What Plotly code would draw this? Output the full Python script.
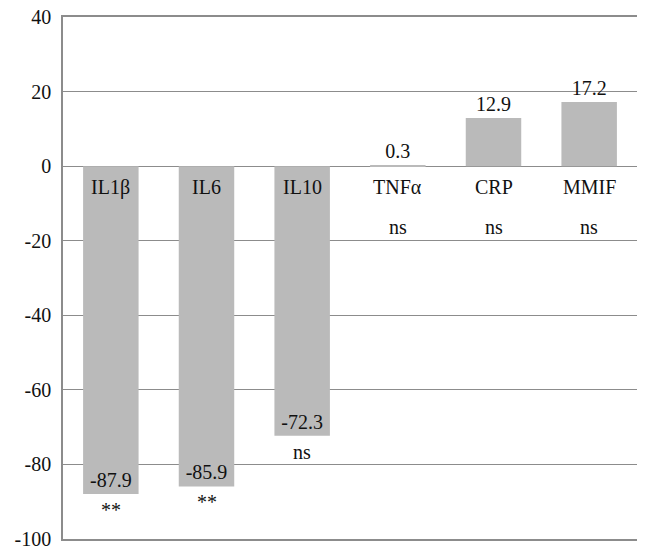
import plotly.graph_objects as go

categories = ["IL1β", "IL6", "IL10", "TNFα", "CRP", "MMIF"]
values = [-87.9, -85.9, -72.3, 0.3, 12.9, 17.2]
significance = ["**", "**", "ns", "ns", "ns", "ns"]
tick_values = [40, 20, 0, -20, -40, -60, -80, -100]
tick_labels = ["40", "20", "0", "-20", "-40", "-60", "-80", "-100"]

FONT = "Liberation Serif"
BAR_COLOR = "#bababa"
GRID_COLOR = "#8c8c8c"
TEXT_COLOR = "#111111"
NS_ROW = -14  # row used for the marks of the small / positive bars

fig = go.Figure()
fig.add_trace(
    go.Bar(
        x=categories,
        y=values,
        marker=dict(color=BAR_COLOR, line=dict(width=0)),
        text=[f"{v:.1f}" for v in values],
        textposition=["inside" if v < 0 else "outside" for v in values],
        insidetextanchor="end",
        insidetextfont=dict(family=FONT, size=20, color=TEXT_COLOR),
        outsidetextfont=dict(family=FONT, size=20, color=TEXT_COLOR),
        cliponaxis=False,
    )
)

# category names just below the zero line
for cat in categories:
    fig.add_annotation(
        x=cat, y=0, text=cat, showarrow=False, yanchor="top", yshift=-8,
        font=dict(family=FONT, size=20, color=TEXT_COLOR),
    )

# significance marks: under the bar for negative values, lower row otherwise
for cat, v, s in zip(categories, values, significance):
    if v < 0:
        y, shift = v, -3
    else:
        y, shift = NS_ROW, 4
    fig.add_annotation(
        x=cat, y=y, text=s, showarrow=False, yanchor="top", yshift=shift,
        font=dict(family=FONT, size=20, color=TEXT_COLOR),
    )

fig.update_layout(
    width=645,
    height=554,
    margin=dict(l=63, r=8, t=17, b=15),
    plot_bgcolor="white",
    paper_bgcolor="white",
    showlegend=False,
    bargap=0.42,
    hovermode=False,
    font=dict(family=FONT, size=20, color=TEXT_COLOR),
)
fig.update_xaxes(
    showticklabels=False, showgrid=False, zeroline=False, automargin=False,
    showline=True, mirror=True, linecolor=GRID_COLOR, linewidth=1.5,
)
fig.update_yaxes(
    range=[-100, 40], tickvals=tick_values, ticktext=tick_labels, ticks="",
    automargin=False, ticklabeloverflow="allow",
    showgrid=True, gridcolor=GRID_COLOR, gridwidth=1.2,
    zeroline=True, zerolinecolor=GRID_COLOR, zerolinewidth=1.2,
    showline=True, linecolor=GRID_COLOR, linewidth=1.5,
    ticklabelstandoff=6,
    tickfont=dict(family=FONT, size=20, color=TEXT_COLOR),
)

# drop the default body margin so the figure sits flush in the window
fig.write_html(
    "out.html",
    config={"displayModeBar": False},
    post_script="document.body.style.margin='0';",
)
